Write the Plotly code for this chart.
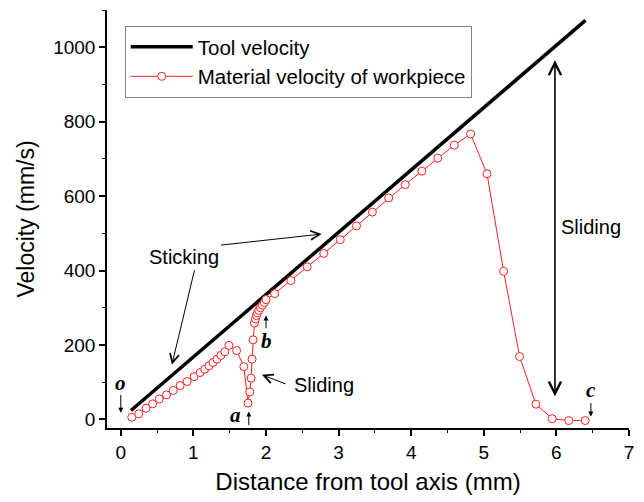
import plotly.graph_objects as go

# Tool velocity (straight line, endpoints)
tool_x = [0.14, 6.40]
tool_v = [24, 1072]

# Material velocity of workpiece
mat_x = [0.151, 0.247, 0.348, 0.438, 0.530, 0.630, 0.722, 0.818, 0.914, 1.010,
         1.092, 1.156, 1.215, 1.270, 1.325, 1.379, 1.434, 1.489, 1.595, 1.695,
         1.753, 1.777, 1.795, 1.808, 1.822, 1.841, 1.855, 1.868, 1.882, 1.900,
         1.923, 1.951, 1.978, 2.000, 2.119, 2.342, 2.567, 2.795, 3.023, 3.247,
         3.466, 3.690, 3.918, 4.147, 4.366, 4.595, 4.818, 5.044, 5.273, 5.493,
         5.718, 5.941, 6.170, 6.397]
mat_v = [6, 15, 30, 42, 55, 66, 78, 91, 102, 115,
         126, 135, 144, 153, 162, 172, 182, 199, 185, 142,
         44, 74, 111, 162, 214, 259, 270, 279, 286, 293,
         300, 307, 314, 322, 338, 373, 410, 446, 483, 520,
         557, 595, 631, 667, 702, 737, 767, 660, 398, 169,
         41, 2, -3, -3]

x_ticks = [0, 1, 2, 3, 4, 5, 6, 7]
y_ticks = [0, 200, 400, 600, 800, 1000]

FONT = "Liberation Sans, Arial, sans-serif"
SERIF = "Liberation Serif, Times New Roman, serif"

fig = go.Figure()
fig.add_trace(go.Scatter(x=tool_x, y=tool_v, mode="lines", name="Tool velocity",
                         line=dict(color="black", width=3.5)))
fig.add_trace(go.Scatter(x=mat_x, y=mat_v, mode="lines+markers",
                         name="Material velocity of workpiece",
                         line=dict(color="#ff2020", width=1),
                         marker=dict(symbol="circle", size=8, color="white",
                                     line=dict(color="#ff2020", width=1))))

ann = []
def arrow(x, y, ax, ay, head=2, size=1.0, width=1.0, side="end"):
    ann.append(dict(x=x, y=y, ax=ax, ay=ay, xref="x", yref="y", axref="x", ayref="y",
                    text="", showarrow=True, arrowhead=head, startarrowhead=head,
                    arrowsize=size, startarrowsize=size, arrowwidth=width,
                    arrowcolor="black", arrowside=side))

def label(x, y, t, font=FONT, size=20, bold_italic=False, xanchor="center"):
    txt = "<b><i>%s</i></b>" % t if bold_italic else t
    ann.append(dict(x=x, y=y, xref="x", yref="y", text=txt, showarrow=False,
                    xanchor=xanchor, font=dict(family=font, size=size, color="black")))

# Sticking
label(0.874, 437, "Sticking")
arrow(2.767, 498, 1.36, 468, head=5, size=1.8, width=1)
arrow(0.704, 147, 1.02, 405, head=5, size=1.8, width=1)
# Sliding near a
label(2.36, 93, "Sliding", xanchor="left")
arrow(1.945, 120, 2.29, 94, head=5, size=1.8, width=1)
# Sliding right (double arrow)
label(6.48, 517, "Sliding")
arrow(5.98, 62, 5.98, 969, head=5, size=1.5, width=1.6, side="end+start")
# points o, a, b, c
label(0.0, 98, "o", font=SERIF, size=21, bold_italic=True)
arrow(0.0, 18, 0.0, 70, head=2, size=1.0, width=1)
label(1.585, 13, "a", font=SERIF, size=21, bold_italic=True)
arrow(1.763, 21, 1.763, -19, head=2, size=1.0, width=1)
label(2.0, 212, "b", font=SERIF, size=21, bold_italic=True)
arrow(2.0, 279, 2.0, 241, head=2, size=1.0, width=1)
label(6.475, 80, "c", font=SERIF, size=21, bold_italic=True)
arrow(6.475, 8, 6.475, 48, head=2, size=1.0, width=1)

fig.update_layout(
    width=644, height=502,
    margin=dict(l=107, r=12, t=10, b=74),
    paper_bgcolor="white", plot_bgcolor="white",
    font=dict(family=FONT, size=19, color="black"),
    showlegend=True,
    legend=dict(x=0.034, y=0.962, xanchor="left", yanchor="top",
                bgcolor="white", bordercolor="#808080", borderwidth=1,
                font=dict(family=FONT, size=20.5), tracegroupgap=0,
                itemwidth=62),
    annotations=ann,
    xaxis=dict(range=[-0.19, 7], tickvals=x_ticks, ticktext=[str(v) for v in x_ticks],
               showline=True, linecolor="black", linewidth=1.5, mirror=False,
               ticks="outside", ticklen=6, tickwidth=1.5, tickcolor="black",
               minor=dict(dtick=0.5, ticks="outside", ticklen=3, tickwidth=1.2, tickcolor="black"),
               showgrid=False, zeroline=False,
               tickfont=dict(size=19),
               title=dict(text="Distance from tool axis (mm)", font=dict(size=24), standoff=12)),
    yaxis=dict(range=[-23, 1100], tickvals=y_ticks, ticktext=[str(v) for v in y_ticks],
               showline=True, linecolor="black", linewidth=1.5, mirror=False,
               ticks="outside", ticklen=6, tickwidth=1.5, tickcolor="black",
               minor=dict(dtick=100, ticks="outside", ticklen=3, tickwidth=1.2, tickcolor="black"),
               showgrid=False, zeroline=False,
               tickfont=dict(size=19),
               title=dict(text="Velocity (mm/s)", font=dict(size=23), standoff=12)),
)

fig.write_html("out.html")
